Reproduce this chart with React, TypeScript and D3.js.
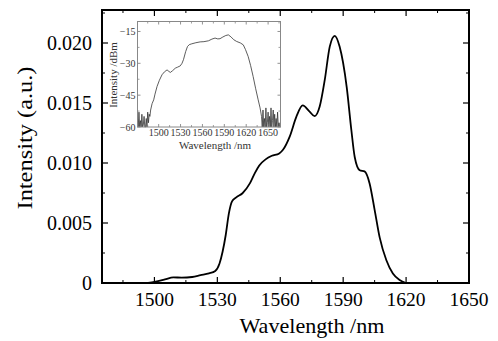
import React from "react";
import * as d3 from "d3";

const mainWl = [1497, 1500, 1505, 1509, 1513, 1518, 1522, 1526, 1529, 1531, 1532.5, 1534, 1535.5, 1537, 1539, 1542, 1545.5, 1548, 1550, 1553, 1556, 1559.5, 1561.3, 1564.5, 1567.7, 1570.7, 1574, 1576.4, 1578.8, 1581.2, 1583.6, 1586, 1588.3, 1591.7, 1593.9, 1595.5, 1597.9, 1600.2, 1602.6, 1605, 1607.4, 1610.6, 1613.7, 1616.9, 1620];
const mainVal = [0, 0.0001, 0.0003, 0.00047, 0.00045, 0.0005, 0.00065, 0.0008, 0.001, 0.0016, 0.0026, 0.004, 0.0058, 0.0068, 0.00714, 0.00748, 0.0083, 0.0092, 0.0098, 0.0103, 0.0106, 0.0108, 0.0111, 0.0122, 0.01386, 0.0148, 0.01428, 0.0139, 0.0147, 0.0169, 0.0197, 0.0206, 0.0197, 0.0163, 0.01275, 0.0105, 0.0094, 0.0093, 0.0083, 0.0061, 0.0038, 0.0019, 0.0008, 0.00025, 0];

const insetWl = [1471, 1472, 1473, 1474, 1475, 1476, 1477, 1478, 1479, 1480, 1481, 1482, 1483, 1484, 1485, 1486, 1487, 1488, 1489, 1491, 1493.2, 1495, 1497.8, 1501, 1504.6, 1508, 1511.5, 1514, 1516, 1519, 1522.8, 1526, 1529.6, 1532, 1534, 1537, 1539.5, 1542, 1545.5, 1551, 1556.9, 1562, 1568.2, 1573, 1577.3, 1581, 1584.1, 1588, 1592, 1595.5, 1599, 1603, 1606.9, 1612, 1616, 1619, 1622.7, 1626, 1629.5, 1633, 1636.4, 1639, 1641, 1642, 1643, 1644, 1645, 1646, 1647, 1648, 1649, 1650, 1651, 1652, 1653, 1654, 1655, 1656, 1657, 1658, 1659, 1660, 1661, 1662, 1663, 1664, 1665, 1666];
const insetDb = [-56, -60, -53, -60, -57, -60, -54, -60, -59, -55, -60, -60, -56, -60, -53, -58, -54, -55, -52, -49, -47.2, -44.5, -40.9, -38, -35.4, -34, -33.1, -33.8, -34.3, -33.5, -32.3, -31.8, -31.2, -30, -28.3, -24.5, -22.1, -21.2, -20.8, -20.3, -19.9, -19.8, -19.4, -18.6, -18.1, -18.5, -18.4, -17.6, -16.9, -16.6, -17.5, -18.9, -19.7, -20.4, -21.3, -23.5, -26.8, -31, -36.2, -42, -47.2, -51, -55, -60, -52, -60, -56, -60, -51, -60, -58, -53, -60, -55, -60, -51, -60, -57, -52, -60, -54, -60, -56, -60, -53, -60, -58, -60];

const xTicks = [1500, 1530, 1560, 1590, 1620, 1650];
const yTicks = [0, 0.005, 0.01, 0.015, 0.02];
const yTickLabels = ["0", "0.005", "0.010", "0.015", "0.020"];
const insetXTicks = [1500, 1530, 1560, 1590, 1620, 1650];
const insetYTicks = [-15, -30, -45, -60];

const W = 498, H = 341;
const L = 102, R = 469, T = 10, B = 283;
const IL = 137.5, IR = 280.5, IT = 21.5, IB = 127;
const serif = "'Liberation Serif', 'Times New Roman', serif";

export default function App() {
  const x = d3.scaleLinear().domain([1475, 1650]).range([L, R]);
  const y = d3.scaleLinear().domain([0, 0.02275]).range([B, T]);
  const ix = d3.scaleLinear().domain([1471, 1667]).range([IL, IR]);
  const iy = d3.scaleLinear().domain([-60, -10.3]).range([IB, IT]);

  const mainPts = mainWl.map((w, i) => [w, mainVal[i]] as [number, number]);
  const line = d3.line<[number, number]>().x(d => x(d[0])).y(d => y(d[1])).curve(d3.curveMonotoneX);
  const insetPts = insetWl.map((w, i) => [w, insetDb[i]] as [number, number]);
  const iline = d3.line<[number, number]>().x(d => ix(d[0])).y(d => iy(d[1]));

  const xMinor = d3.range(1485, 1650, 30);
  const yMinor = d3.range(0.0025, 0.0226, 0.005);
  const ixMinor = d3.range(1485, 1667, 15).filter(v => !insetXTicks.includes(v));

  return (
    <svg width={W} height={H} style={{ position: "absolute", left: 0, top: 0, background: "#fff" }}>
      <rect x={0} y={0} width={W} height={H} fill="#fff" />
      {xTicks.map(t => (
        <g key={"xt" + t}>
          <line x1={x(t)} x2={x(t)} y1={B} y2={B - 6} stroke="#000" strokeWidth={1.2} />
          <line x1={x(t)} x2={x(t)} y1={T} y2={T + 6} stroke="#000" strokeWidth={1.2} />
          <text x={x(t)} y={306} textAnchor="middle" fontFamily={serif} fontSize={19.5} fill="#000">{t}</text>
        </g>
      ))}
      {xMinor.map(t => (
        <g key={"xm" + t}>
          <line x1={x(t)} x2={x(t)} y1={B} y2={B - 3} stroke="#000" strokeWidth={1} />
          <line x1={x(t)} x2={x(t)} y1={T} y2={T + 3} stroke="#000" strokeWidth={1} />
        </g>
      ))}
      {yTicks.map((t, i) => (
        <g key={"yt" + t}>
          <line x1={L} x2={L + 6} y1={y(t)} y2={y(t)} stroke="#000" strokeWidth={1.2} />
          <line x1={R} x2={R - 6} y1={y(t)} y2={y(t)} stroke="#000" strokeWidth={1.2} />
          <text x={92} y={y(t) + 6.5} textAnchor="end" fontFamily={serif} fontSize={20} fill="#000">{yTickLabels[i]}</text>
        </g>
      ))}
      {yMinor.map(t => (
        <g key={"ym" + t}>
          <line x1={L} x2={L + 3} y1={y(t)} y2={y(t)} stroke="#000" strokeWidth={1} />
          <line x1={R} x2={R - 3} y1={y(t)} y2={y(t)} stroke="#000" strokeWidth={1} />
        </g>
      ))}
      <path d={line(mainPts) || ""} fill="none" stroke="#000" strokeWidth={1.8} />
      <rect x={L} y={T} width={R - L} height={B - T} fill="none" stroke="#000" strokeWidth={2} />
      <text x={312} y={333} textAnchor="middle" fontFamily={serif} fontSize={21} textLength={145} lengthAdjust="spacingAndGlyphs" fill="#000">Wavelength /nm</text>
      <text transform={`translate(32,138) rotate(-90)`} textAnchor="middle" fontFamily={serif} fontSize={21} textLength={143} lengthAdjust="spacingAndGlyphs" fill="#000">Intensity (a.u.)</text>

      <rect x={IL} y={IT} width={IR - IL} height={IB - IT} fill="#fff" />
      <path d={iline(insetPts) || ""} fill="none" stroke="#333" strokeWidth={0.8} />
      {insetXTicks.map(t => (
        <g key={"ixt" + t}>
          <line x1={ix(t)} x2={ix(t)} y1={IB} y2={IB - 3} stroke="#777" strokeWidth={0.8} />
          <line x1={ix(t)} x2={ix(t)} y1={IT} y2={IT + 3} stroke="#777" strokeWidth={0.8} />
          <text x={ix(t)} y={IB + 9} textAnchor="middle" fontFamily={serif} fontSize={10} fill="#333">{t}</text>
        </g>
      ))}
      {ixMinor.map(t => (
        <g key={"ixm" + t}>
          <line x1={ix(t)} x2={ix(t)} y1={IB} y2={IB - 2} stroke="#777" strokeWidth={0.7} />
          <line x1={ix(t)} x2={ix(t)} y1={IT} y2={IT + 2} stroke="#777" strokeWidth={0.7} />
        </g>
      ))}
      {insetYTicks.map(t => (
        <g key={"iyt" + t}>
          <line x1={IL} x2={IL + 3} y1={iy(t)} y2={iy(t)} stroke="#777" strokeWidth={0.8} />
          <line x1={IR} x2={IR - 3} y1={iy(t)} y2={iy(t)} stroke="#777" strokeWidth={0.8} />
          <text x={IL - 2} y={iy(t) + 3.5} textAnchor="end" fontFamily={serif} fontSize={10} fill="#333">{"\u2212" + Math.abs(t)}</text>
        </g>
      ))}
      {[-52.5, -37.5, -22.5].map(t => (
        <g key={"iym" + t}>
          <line x1={IL} x2={IL + 2} y1={iy(t)} y2={iy(t)} stroke="#777" strokeWidth={0.7} />
          <line x1={IR} x2={IR - 2} y1={iy(t)} y2={iy(t)} stroke="#777" strokeWidth={0.7} />
        </g>
      ))}
      <rect x={IL} y={IT} width={IR - IL} height={IB - IT} fill="none" stroke="#888" strokeWidth={1} />
      <text x={215} y={149} textAnchor="middle" fontFamily={serif} fontSize={11} fill="#333">Wavelength /nm</text>
      <text transform={`translate(117,75) rotate(-90)`} textAnchor="middle" fontFamily={serif} fontSize={11} fill="#333">Intensity /dBm</text>
    </svg>
  );
}
